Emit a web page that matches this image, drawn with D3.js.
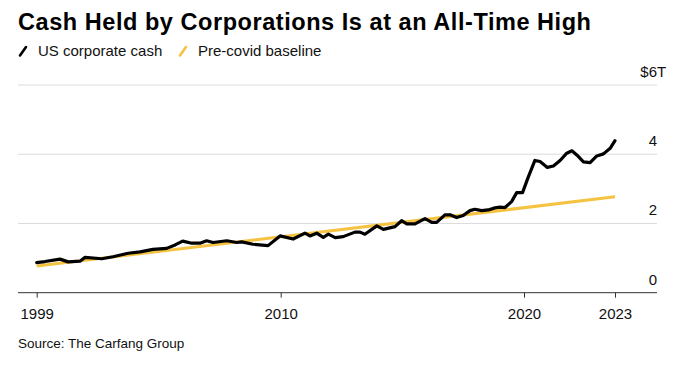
<!DOCTYPE html>
<html>
<head>
<meta charset="utf-8">
<script src="https://cdn.jsdelivr.net/npm/d3@7"></script>
<style>
  body { margin: 0; background: #fff; }
  svg { font-family: "Liberation Sans", Arial, sans-serif; display: block; }
</style>
</head>
<body>
<div id="chart"></div>
<script>
// US corporate cash, $ trillions
var cashYears = [1999.00, 1999.37, 2000.05, 2000.42, 2000.95, 2001.18, 2001.93, 2002.44, 2003.12, 2003.66,
  2004.24, 2004.86, 2005.24, 2005.58, 2005.99, 2006.36, 2006.66, 2006.95, 2007.57, 2008.02,
  2008.24, 2008.75, 2009.43, 2009.97, 2010.51, 2011.00, 2011.20, 2011.48, 2011.75, 2011.96,
  2012.24, 2012.57, 2013.05, 2013.26, 2013.46, 2013.95, 2014.22, 2014.70, 2014.97, 2015.18,
  2015.52, 2015.93, 2016.21, 2016.41, 2016.75, 2016.96, 2017.23, 2017.50, 2017.78, 2017.98,
  2018.26, 2018.53, 2018.81, 2019.01, 2019.22, 2019.49, 2019.70, 2019.94, 2020.14, 2020.36,
  2020.53, 2020.77, 2020.97, 2021.19, 2021.41, 2021.58, 2021.74, 2021.96, 2022.18, 2022.40,
  2022.62, 2022.84, 2023.00]
var cashValues = [0.87, 0.90, 0.97, 0.89, 0.91, 1.02, 0.98, 1.04, 1.14, 1.18,
  1.25, 1.28, 1.38, 1.49, 1.43, 1.43, 1.50, 1.45, 1.50, 1.45,
  1.47, 1.40, 1.36, 1.64, 1.55, 1.72, 1.64, 1.72, 1.60, 1.69,
  1.59, 1.62, 1.75, 1.75, 1.69, 1.93, 1.83, 1.91, 2.08, 1.99,
  1.99, 2.14, 2.03, 2.03, 2.25, 2.25, 2.17, 2.23, 2.37, 2.41,
  2.37, 2.39, 2.45, 2.47, 2.46, 2.63, 2.89, 2.89, 3.34, 3.82,
  3.79, 3.62, 3.66, 3.82, 4.03, 4.10, 3.98, 3.78, 3.76, 3.95,
  4.01, 4.17, 4.39]

// pre-covid baseline
var baseYears = [1999, 2023]
var baseValues = [0.77, 2.77]

var xTicks = [1999, 2010, 2020, 2023]
var yTicks = [0, 2, 4, 6]

var width = 679, height = 373
var left = 18, right = 657

var svg = d3.select('#chart').append('svg').attr('width', width).attr('height', height)

// the axis is not evenly spaced in the original, so the scale is piecewise
var x = d3.scaleLinear().domain(xTicks).range([36.7, 280.7, 524, 615])
var y = d3.scaleLinear().domain([0, 6]).range([292.7, 85])

svg.append('text').attr('x', left).attr('y', 30)
  .style('font-size', '23.5px').style('font-weight', 'bold').style('fill', '#000')
  .style('letter-spacing', '0.55px')
  .text('Cash Held by Corporations Is at an All-Time High')

// legend
var legend = [
  {label: 'US corporate cash', color: '#000', x: left},
  {label: 'Pre-covid baseline', color: '#f5c242', x: 178}
]
var lg = svg.selectAll('.lg').data(legend).enter().append('g').attr('class', 'lg')
  .attr('transform', function(d){ return 'translate(' + d.x + ',0)' })
lg.append('line').attr('x1', 2).attr('y1', 55.5).attr('x2', 8).attr('y2', 47)
  .style('stroke', function(d){ return d.color }).style('stroke-width', 2.6).style('stroke-linecap', 'round')
lg.append('text').attr('x', 20).attr('y', 56).style('font-size', '15px').style('fill', '#111')
  .text(function(d){ return d.label })

// gridlines
svg.selectAll('.grid').data(yTicks.slice(1)).enter().append('line')
  .attr('x1', left).attr('x2', right)
  .attr('y1', function(d){ return y(d) }).attr('y2', function(d){ return y(d) })
  .style('stroke', '#dcdcdc').style('stroke-width', 1)

// y labels sit above their gridline, right aligned
svg.selectAll('.ylab').data(yTicks).enter().append('text')
  .attr('x', right).attr('y', function(d){ return y(d) - 8 })
  .attr('text-anchor', 'end').style('font-size', '15px').style('fill', '#111')
  .text(function(d){ return d == 6 ? '$' + d : d })
svg.append('text').attr('x', right).attr('y', y(6) - 8).style('font-size', '15px').style('fill', '#111').text('T')

// x axis
var xAxis = svg.append('g').attr('transform', 'translate(0,' + y(0) + ')')
  .call(d3.axisBottom(x).tickValues(xTicks).tickFormat(d3.format('d')).tickSize(5).tickPadding(11))
xAxis.select('.domain').remove()
xAxis.selectAll('line').style('stroke', '#333')
xAxis.selectAll('text').style('font-size', '15px').style('fill', '#111')
  .style('font-family', '"Liberation Sans", Arial, sans-serif')
svg.append('line').attr('x1', left).attr('x2', right).attr('y1', y(0)).attr('y2', y(0))
  .style('stroke', '#333').style('stroke-width', 1)

var line = d3.line().x(function(d){ return x(d[0]) }).y(function(d){ return y(d[1]) })

svg.append('path').datum(d3.zip(baseYears, baseValues)).attr('d', line)
  .style('fill', 'none').style('stroke', '#f5c242').style('stroke-width', 3)

svg.append('path').datum(d3.zip(cashYears, cashValues)).attr('d', line)
  .style('fill', 'none').style('stroke', '#000').style('stroke-width', 3.2)
  .style('stroke-linejoin', 'round').style('stroke-linecap', 'round')

svg.append('text').attr('x', left).attr('y', 348).style('font-size', '13.5px').style('fill', '#111')
  .text('Source: The Carfang Group')
</script>
</body>
</html>
